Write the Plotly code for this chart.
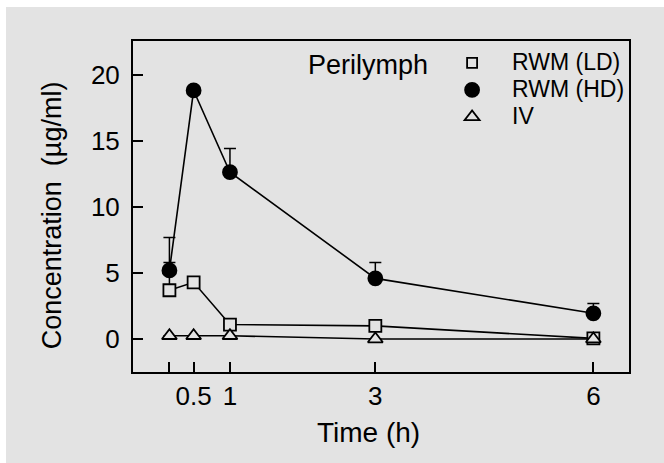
import plotly.graph_objects as go

# Data
time_h = [0.167, 0.5, 1, 3, 6]
ld_vals = [3.7, 4.3, 1.1, 1.0, 0.05]
ld_err = [2.1, 0, 0, 0, 0]
hd_vals = [5.2, 18.85, 12.65, 4.6, 1.95]
hd_err = [2.5, 0, 1.8, 1.2, 0.75]
iv_vals = [0.25, 0.25, 0.25, 0.0, 0.0]
iv_err = [0, 0, 0, 0, 0]
series_names = ["RWM (LD)", "RWM (HD)", "IV"]

x_tickvals = [0.167, 0.5, 1, 3, 6]
x_ticktext = ["", "0.5", "1", "3", "6"]
y_tickvals = [0, 5, 10, 15, 20]

FONT = "Liberation Sans, Arial, sans-serif"
BG = "#e3e3e3"

fig = go.Figure()

def add_series(name, y, err, symbol, size, legsize, filled):
    fill = "black" if filled else BG
    fig.add_trace(go.Scatter(
        x=time_h, y=y, mode="lines+markers", name=name, showlegend=False,
        line=dict(color="black", width=1.6),
        marker=dict(symbol=symbol, size=size, color=fill,
                    line=dict(color="black", width=1.8)),
        error_y=dict(type="data", array=err, arrayminus=[0]*len(err), symmetric=False,
                     color="black", thickness=1.5, width=6),
        cliponaxis=False,
    ))
    # legend-only entry (marker only)
    fig.add_trace(go.Scatter(
        x=[None], y=[None], mode="markers",
        name="<span style='font-size:23px'>" + name + "</span>", showlegend=True,
        marker=dict(symbol=symbol, size=legsize, color=fill,
                    line=dict(color="black", width=1.8)),
    ))

add_series(series_names[0], ld_vals, ld_err, "square", 12, 10, False)
add_series(series_names[1], hd_vals, hd_err, "circle", 14, 14, True)
add_series(series_names[2], iv_vals, iv_err, "triangle-up", 13, 13, False)

fig.update_layout(
    width=664, height=463,
    margin=dict(l=133, r=35, t=41, b=91),
    paper_bgcolor="white",
    plot_bgcolor=BG,
    font=dict(family=FONT, size=26, color="black"),
    legend=dict(x=0.603, y=0.99, xanchor="left", yanchor="top",
                bgcolor="rgba(0,0,0,0)", font=dict(size=18.5),
                itemwidth=70, tracegroupgap=0),
    shapes=[dict(type="rect", xref="paper", yref="paper", layer="below",
                 x0=(6 - 133) / 496, x1=(664 - 133) / 496,
                 y0=(372 - 463) / 331, y1=(372 - 7) / 331,
                 fillcolor=BG, line=dict(width=0))],
    annotations=[
        dict(text="Perilymph", xref="paper", yref="paper", x=0.474, y=0.9275,
             showarrow=False, font=dict(size=27), xanchor="center", yanchor="middle"),
        dict(text="Time (h)", xref="paper", yref="paper", x=0.474, y=-0.184,
             showarrow=False, font=dict(size=28), xanchor="center", yanchor="middle"),
        dict(text="Concentration  (µg/ml)", xref="paper", yref="paper", x=-0.163, y=0.474,
             showarrow=False, font=dict(size=27), textangle=-90,
             xanchor="center", yanchor="middle"),
    ],
)

fig.update_xaxes(range=[-0.334, 6.49], tickvals=x_tickvals, ticktext=x_ticktext,
                 ticks="inside", ticklen=10, tickwidth=1.5, tickcolor="black",
                 showline=True, linecolor="black", linewidth=2, mirror=True,
                 showgrid=False, zeroline=False, tickfont=dict(size=26))
fig.update_yaxes(range=[-2.5, 22.6], tickvals=y_tickvals,
                 ticks="inside", ticklen=10, tickwidth=1.5, tickcolor="black",
                 showline=True, linecolor="black", linewidth=2, mirror=True,
                 showgrid=False, zeroline=False, tickfont=dict(size=26),
                 ticklabelstandoff=6)

fig.write_html("out.html")
